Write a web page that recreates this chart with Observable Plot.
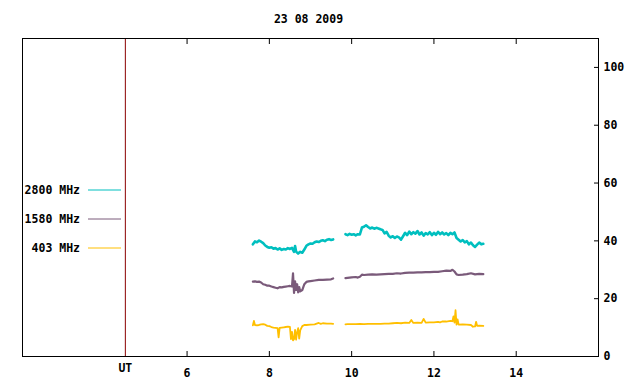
<!DOCTYPE html>
<html><head><meta charset="utf-8">
<script src="https://cdn.jsdelivr.net/npm/d3@7"></script>
<script src="https://cdn.jsdelivr.net/npm/@observablehq/plot@0.6"></script>
<style>body{margin:0;background:#fff}</style>
</head><body><div id="chart"></div>
<script>
const title = "23 08 2009";
const xTicks = [6, 8, 10, 12, 14];
const yTicks = [0, 20, 40, 60, 80, 100];
const utMark = 4.5;
const utLabel = "UT";
const seriesNames = ["2800 MHz", "1580 MHz", "403 MHz"];
const seriesColors = ["#00bfbf", "#7a5a7a", "#ffbf00"];

// 2800 MHz
const t2800 = [7.60,7.65,7.70,7.75,7.80,7.85,7.90,7.95,8.00,8.05,8.10,8.15,8.20,8.25,8.30,8.35,8.40,8.45,8.50,8.55,8.60,8.625,8.65,8.70,8.75,8.80,8.85,8.90,8.95,9.00,9.05,9.10,9.15,9.20,9.25,9.30,9.35,9.40,9.45,9.50,9.55,
  9.70,
  9.85,9.90,9.95,10.00,10.05,10.10,10.15,10.20,10.25,10.30,10.35,10.40,10.45,10.50,10.55,10.60,10.65,10.70,10.75,10.80,10.85,10.90,10.95,11.00,11.05,11.10,11.15,11.20,11.25,11.30,11.35,11.40,11.45,11.50,11.55,11.60,11.65,11.70,11.75,11.80,11.85,11.90,11.95,12.00,12.05,12.10,12.15,12.20,12.25,12.30,12.35,12.40,12.45,12.50,12.55,12.60,12.65,12.70,12.75,12.80,12.85,12.90,12.95,13.00,13.05,13.10,13.15,13.20];
const v2800 = [38.8,39.8,39.5,40.1,39.7,39.2,38.4,37.9,37.6,37.8,37.3,37.5,37.0,37.4,36.9,37.2,37.0,37.5,37.2,37.6,36.2,38.2,36.3,35.6,36.2,35.9,37.0,38.3,38.8,39.1,39.0,39.5,39.8,39.6,40.0,40.2,39.9,40.4,40.6,40.3,40.5,
  NaN,
  42.3,42.0,42.4,42.1,42.3,41.9,42.3,42.2,44.6,44.9,45.4,44.8,44.3,44.6,44.2,44.5,44.3,44.0,43.8,42.6,43.1,41.8,41.2,41.6,41.0,41.5,41.2,40.4,41.6,42.8,42.0,43.2,42.3,43.0,42.5,43.4,42.2,42.9,41.8,42.7,42.2,43.0,42.0,42.8,42.1,43.1,42.3,42.9,42.2,42.7,42.0,42.8,42.3,42.9,41.0,40.4,39.8,40.3,39.5,39.9,38.8,39.4,38.5,37.9,38.7,39.4,38.8,39.0];

// 1580 MHz
const t1580 = [7.60,7.65,7.70,7.75,7.80,7.85,7.90,7.95,8.00,8.05,8.10,8.15,8.20,8.25,8.30,8.35,8.40,8.45,8.50,8.55,8.575,8.60,8.625,8.65,8.675,8.70,8.725,8.75,8.80,8.85,8.90,8.95,9.00,9.10,9.20,9.30,9.40,9.50,9.55,
  9.70,
  9.85,9.90,10.00,10.10,10.15,10.20,10.25,10.30,10.40,10.50,10.60,10.70,10.80,10.90,11.00,11.10,11.20,11.30,11.40,11.50,11.60,11.70,11.80,11.90,12.00,12.10,12.20,12.30,12.40,12.45,12.50,12.55,12.60,12.70,12.80,12.90,13.00,13.10,13.20];
const v1580 = [25.9,26.0,25.8,25.9,25.6,25.0,24.8,24.5,24.5,24.2,24.0,23.8,23.6,24.0,23.9,24.1,24.2,24.3,24.4,24.2,28.8,22.0,26.0,23.0,25.0,22.2,24.0,22.5,23.0,25.0,25.8,26.0,26.1,26.3,26.5,26.5,26.6,26.7,27.0,
  NaN,
  27.1,27.2,27.4,27.5,27.3,27.6,28.3,28.2,28.3,28.4,28.3,28.4,28.5,28.6,28.6,28.8,28.7,28.9,29.0,29.0,29.1,29.1,29.2,29.2,29.3,29.3,29.5,29.7,29.6,30.0,29.4,28.4,28.2,28.3,28.5,28.8,28.4,28.6,28.5];

// 403 MHz
const t403 = [7.60,7.625,7.65,7.70,7.75,7.80,7.85,7.90,7.95,8.00,8.05,8.10,8.15,8.20,8.225,8.25,8.30,8.35,8.40,8.45,8.50,8.525,8.55,8.575,8.60,8.625,8.65,8.675,8.70,8.725,8.75,8.80,8.85,8.90,9.00,9.10,9.20,9.25,9.30,9.40,9.50,9.55,
  9.70,
  9.85,9.90,10.00,10.10,10.20,10.30,10.40,10.50,10.60,10.70,10.80,10.90,11.00,11.10,11.20,11.30,11.40,11.45,11.50,11.60,11.70,11.75,11.80,11.90,12.00,12.10,12.15,12.20,12.30,12.40,12.45,12.475,12.50,12.525,12.55,12.575,12.60,12.70,12.80,12.90,12.95,13.00,13.025,13.05,13.10,13.20];
const v403 = [10.8,12.3,10.9,10.8,10.9,11.1,11.2,11.0,10.6,10.5,10.2,10.0,9.9,9.8,6.6,9.9,10.0,10.1,10.2,10.3,10.2,6.0,8.5,5.6,6.0,9.2,5.8,8.4,9.8,6.2,9.0,10.5,10.9,10.9,11.0,11.1,11.6,11.3,11.5,11.4,11.4,11.3,
  NaN,
  11.1,11.2,11.2,11.2,11.3,11.2,11.3,11.3,11.3,11.3,11.4,11.4,11.5,11.6,11.5,11.7,11.6,12.6,11.6,11.7,11.6,13.0,11.7,11.8,11.8,12.0,11.8,12.1,12.1,12.3,12.2,13.9,11.7,16.0,11.0,12.8,11.0,11.1,11.0,10.9,10.3,10.4,12.0,10.6,10.7,10.6];

const rows = (ts, vs) => ts.map((t, i) => ({t, v: vs[i]}));
const series = [rows(t2800, v2800), rows(t1580, v1580), rows(t403, v403)];
const widths = [2.6, 2.2, 1.8];

const font = "'DejaVu Sans Mono', monospace";
const chart = Plot.plot({
  width: 640, height: 384,
  marginLeft: 22, marginRight: 42, marginTop: 38, marginBottom: 28,
  x: {domain: [2, 16]},
  y: {domain: [0, 110]},
  style: {fontFamily: font, fontSize: "11.5px", fontWeight: "bold", background: "#fff", color: "#000", overflow: "visible"},
  marks: [
    Plot.ruleX([utMark], {stroke: "#8b0000", strokeWidth: 1}),
    ...series.map((d, i) => Plot.line(d, {x: "t", y: "v", stroke: seriesColors[i], strokeWidth: widths[i]})),
    Plot.frame({stroke: "#000"}),
    Plot.axisX({ticks: xTicks, anchor: "bottom", tickSize: -5, tickPadding: 17, label: null}),
    Plot.axisX({ticks: xTicks, anchor: "top", tickSize: -5, tickFormat: () => "", label: null}),
    Plot.axisY({ticks: yTicks, anchor: "right", tickSize: -5, tickPadding: 10, label: null}),
    Plot.text([utMark], {x: d => d, text: () => utLabel, frameAnchor: "bottom", lineAnchor: "middle", dy: 12}),
    Plot.text([title], {text: d => d, frameAnchor: "top", lineAnchor: "middle", dy: -19, dx: -2})
  ]
});
document.getElementById("chart").append(chart);

// legend (gnuplot-style, inside the left of the frame)
const svg = d3.select(chart);
const lg = svg.append("g").attr("font-family", font).attr("font-size", "11.5px").attr("font-weight", "bold");
const legendY = [190, 219, 248];
seriesNames.forEach((name, i) => {
  lg.append("text").attr("x", 80).attr("y", legendY[i]).attr("dy", "0.35em")
    .attr("text-anchor", "end").attr("fill", "#000").text(name);
  lg.append("line").attr("x1", 88).attr("x2", 121).attr("y1", legendY[i]).attr("y2", legendY[i])
    .attr("stroke", seriesColors[i]).attr("stroke-width", 1);
});
</script>
</body></html>
